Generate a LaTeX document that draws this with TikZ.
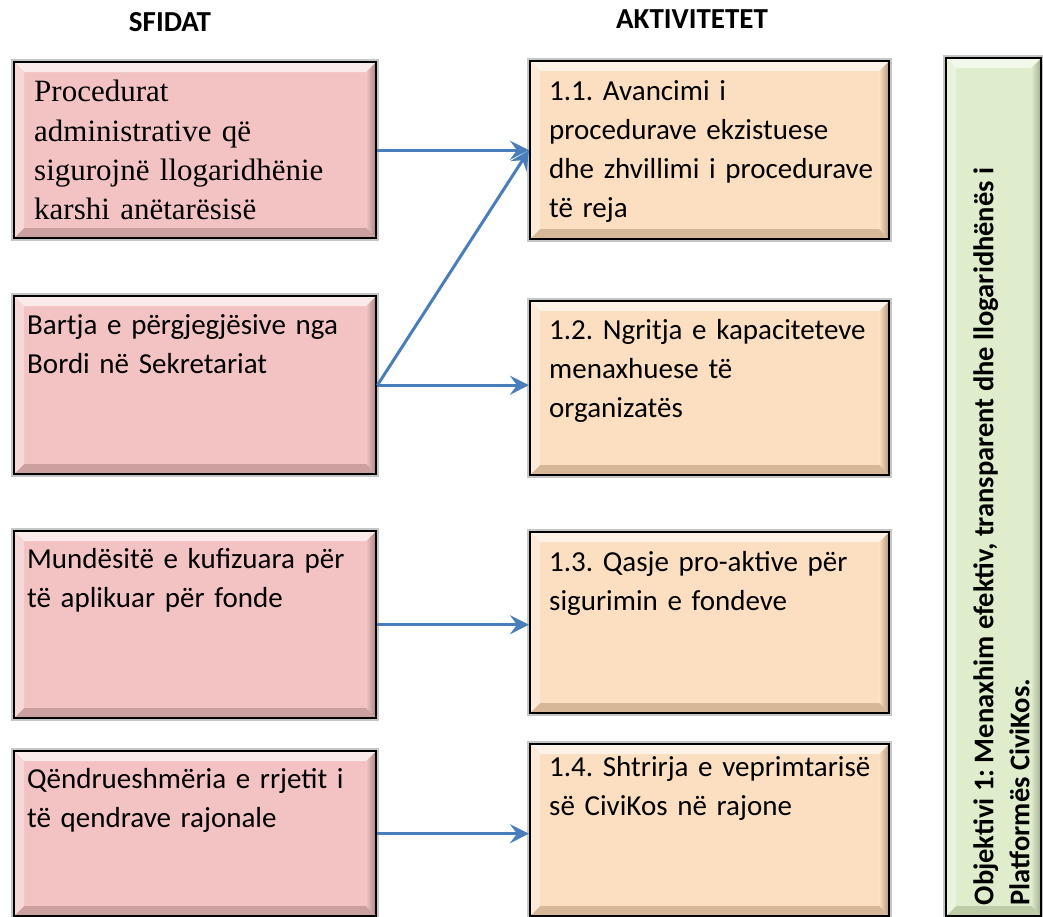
\documentclass[tikz,border=0pt]{standalone}
\usepackage{fontspec}
\setmainfont{Carlito}
\newfontfamily\boxserif{Liberation Serif}
\usetikzlibrary{arrows.meta,calc}
\frenchspacing

% fill colours and bevel tones
\definecolor{pinkfill}{RGB}{243,195,195}
\definecolor{pinktop}{RGB}{251,234,234}
\definecolor{pinkleft}{RGB}{247,216,216}
\definecolor{pinkright}{RGB}{168,130,130}
\definecolor{pinkbottom}{RGB}{205,160,160}
\definecolor{peachfill}{RGB}{252,222,193}
\definecolor{peachtop}{RGB}{255,243,231}
\definecolor{peachleft}{RGB}{254,234,214}
\definecolor{peachright}{RGB}{180,150,122}
\definecolor{peachbottom}{RGB}{214,184,152}
\definecolor{greenfill}{RGB}{224,237,204}
\definecolor{greentop}{RGB}{243,249,234}
\definecolor{greenleft}{RGB}{234,244,220}
\definecolor{greenright}{RGB}{160,172,142}
\definecolor{greenbottom}{RGB}{190,204,168}
\definecolor{linkblue}{RGB}{74,126,187}

\tikzset{
  bevelbox/.style n args={5}{
    rectangle, inner sep=0pt, anchor=north west,
    fill=#1, draw=black, line width=2.4pt,
    preaction={draw=gray!45, line width=5.5pt},
    path picture={
      \coordinate (pNW) at (path picture bounding box.north west);
      \coordinate (pNE) at (path picture bounding box.north east);
      \coordinate (pSW) at (path picture bounding box.south west);
      \coordinate (pSE) at (path picture bounding box.south east);
      \fill[#2] (pNW) -- (pNE) -- ([shift={(-10pt,-10pt)}]pNE)
                -- ([shift={(10pt,-10pt)}]pNW) -- cycle;
      \fill[#3] (pNW) -- ([shift={(10pt,-10pt)}]pNW)
                -- ([shift={(10pt,10pt)}]pSW) -- (pSW) -- cycle;
      \shade[left color=#1, right color=#4] (pNE) -- (pSE)
                -- ([shift={(-10pt,10pt)}]pSE) -- ([shift={(-10pt,-10pt)}]pNE) -- cycle;
      \fill[#5] (pSW) -- ([shift={(10pt,10pt)}]pSW)
                -- ([shift={(-10pt,10pt)}]pSE) -- (pSE) -- cycle;
    }
  },
  challenge/.style={bevelbox={pinkfill}{pinktop}{pinkleft}{pinkright}{pinkbottom}},
  activity/.style={bevelbox={peachfill}{peachtop}{peachleft}{peachright}{peachbottom}},
  objective/.style={bevelbox={greenfill}{greentop}{greenleft}{greenright}{greenbottom}},
  boxtext/.style={anchor=base west, inner sep=0pt, text width=#1, align=left,
    font=\fontsize{29}{39}\selectfont},
  heading/.style={anchor=base, inner sep=0pt, font=\bfseries\fontsize{29}{35}\selectfont},
  link/.style={draw=linkblue, line width=3pt,
    -{Stealth[length=19pt, width=19pt, inset=7pt]}}
}

\begin{document}
\begin{tikzpicture}[x=1pt, y=-1pt]
\useasboundingbox (0,0) rectangle (1043,917);

% column headings
\node[heading] (hs) at (170,32) {SFIDAT};
\node[heading] (ha) at (692,29) {AKTIVITETET};

% challenges
\node[challenge, minimum width=362pt, minimum height=176pt] (s1) at (13,61) {};
\node[challenge, minimum width=362pt, minimum height=178pt] (s2) at (13,295) {};
\node[challenge, minimum width=362pt, minimum height=187pt] (s3) at (13,530) {};
\node[challenge, minimum width=362pt, minimum height=165pt] (s4) at (13,750) {};

% activities
\node[activity, minimum width=359pt, minimum height=178pt] (a1) at (529,60) {};
\node[activity, minimum width=359pt, minimum height=174pt] (a2) at (529,300) {};
\node[activity, minimum width=359pt, minimum height=181pt] (a3) at (529,531) {};
\node[activity, minimum width=359pt, minimum height=172pt] (a4) at (529,743) {};

% objective
\node[objective, minimum width=95pt, minimum height=858pt] (g) at (945,57) {};

% texts of the challenges
\node[boxtext=345pt, font=\boxserif\fontsize{31}{39.3}\selectfont] (ts1)
  at ($(s1.north west)+(21pt,-41pt)$)
  {Procedurat\\administrative që\\sigurojnë llogaridhënie\\karshi anëtarësisë};
\node[boxtext=345pt] (ts2) at ($(s2.north west)+(14pt,-39pt)$)
  {Bartja e përgjegjësive nga\\Bordi në Sekretariat};
\node[boxtext=345pt] (ts3) at ($(s3.north west)+(14pt,-38pt)$)
  {Mundësitë e kufizuara për\\të aplikuar për fonde};
\node[boxtext=345pt] (ts4) at ($(s4.north west)+(14pt,-38pt)$)
  {Qëndrueshmëria e rrjetit i\\të qendrave rajonale};

% texts of the activities
\node[boxtext=340pt] (ta1) at ($(a1.north west)+(20pt,-41pt)$)
  {1.1. Avancimi i\\procedurave ekzistuese\\dhe zhvillimi i procedurave\\të reja};
\node[boxtext=340pt] (ta2) at ($(a2.north west)+(20pt,-39pt)$)
  {1.2. Ngritja e kapaciteteve\\menaxhuese të\\organizatës};
\node[boxtext=340pt] (ta3) at ($(a3.north west)+(20pt,-40pt)$)
  {1.3. Qasje pro-aktive për\\sigurimin e fondeve};
\node[boxtext=340pt] (ta4) at ($(a4.north west)+(20pt,-33pt)$)
  {1.4. Shtrirja e veprimtarisë\\së CiviKos në rajone};

% objective text, read from bottom to top
\node[rotate=90, anchor=north west, inner sep=0pt, align=left,
      font=\bfseries\fontsize{28.5}{36}\selectfont] (tg)
  at ($(g.south west)+(28pt,12pt)$)
  {Objektivi 1: Menaxhim efektiv, transparent dhe llogaridhënës i\\Platformës CiviKos.};

% connectors
\draw[link] (s1.east) -- (s1.east -| a1.west);
\draw[link] (s2.east) -- (a1.west);
\draw[link] (s2.east) -- (s2.east -| a2.west);
\draw[link] (s3.east) -- (s3.east -| a3.west);
\draw[link] (s4.east) -- (s4.east -| a4.west);
\end{tikzpicture}
\end{document}
